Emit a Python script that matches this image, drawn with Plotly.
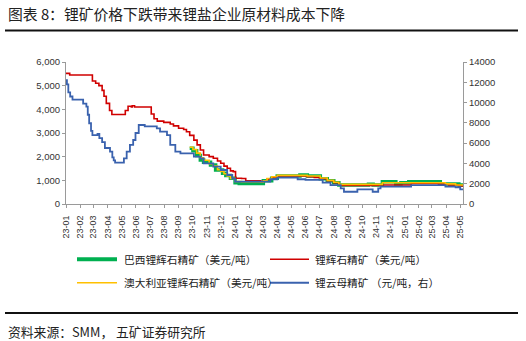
import plotly.graph_objects as go

# ---------------- data ----------------
red_dates = ["2023-01-01", "2023-01-09", "2023-02-24", "2023-02-27", "2023-03-06", "2023-03-13", "2023-03-20",
             "2023-03-24", "2023-03-29", "2023-04-05", "2023-04-10", "2023-05-05", "2023-05-09", "2023-05-15",
             "2023-05-22", "2023-05-24", "2023-05-29", "2023-06-29", "2023-07-04", "2023-07-10", "2023-07-17",
             "2023-07-31", "2023-08-14", "2023-08-21", "2023-09-01", "2023-09-12", "2023-09-18", "2023-09-25",
             "2023-10-04", "2023-10-11", "2023-10-18", "2023-10-25", "2023-11-06", "2023-11-15", "2023-11-24",
             "2023-12-01", "2023-12-08", "2023-12-15", "2023-12-22", "2023-12-28", "2024-01-02", "2024-01-15",
             "2024-01-24", "2024-02-25", "2024-03-02", "2024-03-10", "2024-03-20", "2024-04-01", "2024-04-15",
             "2024-05-20", "2024-06-05", "2024-06-20", "2024-07-03", "2024-07-18", "2024-08-01", "2024-08-12",
             "2024-08-20", "2024-11-05", "2024-12-13", "2025-01-15", "2025-03-08", "2025-03-15", "2025-04-06",
             "2025-04-28", "2025-05-07"]
red_vals = [5520, 5450, 5450, 5200, 5100, 5000, 4800,
            4550, 4250, 3950, 3780, 3780, 3950, 4130,
            4100, 4150, 4100, 4100, 3800, 3600, 3500,
            3450, 3380, 3300, 3200, 3150, 3050, 2900,
            2700, 2500, 2280, 2070, 2000, 1930, 1820,
            1720, 1600, 1510, 1400, 1370, 1090, 1080,
            980, 950, 980, 1050, 1120, 1180, 1190,
            1190, 1150, 1120, 1070, 980, 900, 800,
            780, 800, 800, 870, 870, 840, 800,
            760, 740]

yellow_dates = ["2023-09-25", "2023-10-02", "2023-10-10", "2023-10-18", "2023-10-25", "2023-11-06", "2023-11-15",
                "2023-11-24", "2023-12-01", "2023-12-08", "2023-12-15", "2023-12-22", "2024-01-01", "2024-01-15",
                "2024-02-25", "2024-03-02", "2024-03-10", "2024-03-20", "2024-04-01", "2024-05-20", "2024-06-05",
                "2024-07-03", "2024-07-18", "2024-08-01", "2024-08-12", "2024-11-05", "2024-11-14", "2025-03-19",
                "2025-03-30", "2025-04-21", "2025-05-07"]
yellow_vals = [2400, 2300, 2150, 1950, 1850, 1700, 1600,
               1450, 1380, 1280, 1180, 1080, 950, 940,
               930, 980, 1080, 1150, 1210, 1210, 1180,
               1100, 1000, 920, 830, 830, 900, 900,
               850, 800, 770]

green_dates = ["2023-09-25", "2023-10-02", "2023-10-10", "2023-10-18", "2023-10-25", "2023-11-09", "2023-11-20",
               "2023-12-05", "2023-12-12", "2023-12-22", "2024-01-01", "2024-01-10", "2024-02-25", "2024-03-02",
               "2024-03-20", "2024-04-01", "2024-05-20", "2024-06-05", "2024-07-03", "2024-07-18", "2024-08-01",
               "2024-08-12", "2024-10-10", "2024-10-15", "2024-10-25", "2024-11-14", "2024-12-13", "2024-12-24",
               "2025-01-10", "2025-03-08", "2025-03-19", "2025-04-28", "2025-05-07"]
green_vals = [2360, 2250, 2050, 1860, 1760, 1650, 1440,
              1300, 1200, 1090, 900, 870, 870, 980,
              1090, 1180, 1230, 1180, 1070, 980, 900,
              800, 800, 830, 800, 940, 840, 900,
              940, 940, 840, 800, 760]

blue_dates = ["2023-01-01", "2023-01-03", "2023-01-06", "2023-01-10", "2023-01-15", "2023-02-03", "2023-02-07",
              "2023-02-14", "2023-02-17", "2023-02-20", "2023-02-24", "2023-02-27", "2023-03-08", "2023-03-10",
              "2023-03-14", "2023-03-20", "2023-03-26", "2023-04-06", "2023-04-11", "2023-04-14", "2023-04-17",
              "2023-05-01", "2023-05-06", "2023-05-12", "2023-05-19", "2023-05-26", "2023-05-31", "2023-06-07",
              "2023-06-14", "2023-06-20", "2023-07-16", "2023-07-23", "2023-08-07", "2023-08-14", "2023-08-25",
              "2023-09-05", "2023-10-04", "2023-10-18", "2023-10-25", "2023-11-15", "2023-12-01", "2023-12-15",
              "2023-12-26", "2024-01-01", "2024-02-28", "2024-03-17", "2024-04-01", "2024-05-10", "2024-05-15",
              "2024-06-01", "2024-07-08", "2024-07-25", "2024-08-16", "2024-08-23", "2024-09-10", "2024-09-21",
              "2024-10-20", "2024-10-24", "2024-11-02", "2024-11-05", "2024-11-10", "2025-01-10", "2025-01-15",
              "2025-03-26", "2025-03-30", "2025-04-21", "2025-05-01", "2025-05-07"]
blue_vals = [12200, 11800, 11000, 10600, 10300, 10300, 9900,
             9600, 8800, 7960, 7200, 6800, 6800, 6900,
             6500, 6100, 5520, 5160, 4600, 4300, 4080,
             4080, 4500, 5160, 5820, 6310, 7000, 7790,
             7790, 7650, 7460, 7130, 6800, 5820, 5160,
             5000, 4670, 4500, 4010, 3680, 3350, 2860,
             2500, 2200, 2200, 2440, 2600, 2600, 2440,
             2370, 2100, 1870, 1550, 1210, 1210, 1450,
             1450, 1210, 1210, 1550, 1710, 1710, 1870,
             1870, 1710, 1650, 1450, 1400]

series_names = ["巴西锂辉石精矿（美元/吨）", "锂辉石精矿（美元/吨）",
                "澳大利亚锂辉石精矿（美元/吨）", "锂云母精矿 （元/吨，右）"]
left_ticks = [0, 1000, 2000, 3000, 4000, 5000, 6000]
right_ticks = [0, 2000, 4000, 6000, 8000, 10000, 12000, 14000]

title_text = "图表 8：锂矿价格下跌带来锂盐企业原材料成本下降"
source_text = "资料来源：SMM， 五矿证券研究所"

# ---------------- styling ----------------
W, H = 526, 341
L, R, T, B = 66, 463, 62, 204   # plot area in pixels
GREEN, RED, YELLOW, BLUE = "#00B050", "#D00000", "#FFC000", "#3A62AE"
CJK = "Noto Sans CJK SC"
NUM = "Liberation Sans"


def px(x):
    return (x - L) / (R - L)


def py(y):
    return (B - y) / (B - T)


fig = go.Figure()
fig.add_trace(go.Scatter(x=green_dates, y=green_vals, mode="lines", line=dict(color=GREEN, width=3.5, shape="hv"),
                         name=series_names[0], yaxis="y"))
fig.add_trace(go.Scatter(x=red_dates, y=red_vals, mode="lines", line=dict(color=RED, width=1.6, shape="hv"),
                         name=series_names[1], yaxis="y"))
fig.add_trace(go.Scatter(x=yellow_dates, y=yellow_vals, mode="lines", line=dict(color=YELLOW, width=1.6, shape="hv"),
                         name=series_names[2], yaxis="y"))
fig.add_trace(go.Scatter(x=blue_dates, y=blue_vals, mode="lines", line=dict(color=BLUE, width=1.8, shape="hv"),
                         name=series_names[3], yaxis="y2"))

axis_col = "#9a9a9a"
fig.update_layout(
    width=W, height=H,
    margin=dict(l=L, r=W - R, t=T, b=H - B, pad=0),
    paper_bgcolor="white", plot_bgcolor="white",
    showlegend=False,
    xaxis=dict(type="date", range=["2023-01-01", "2025-05-07"], dtick="M1", tick0="2023-01-01",
               tickformat="%y-%m", tickangle=-90, showgrid=False, zeroline=False,
               showline=True, linecolor=axis_col, linewidth=1, ticks="outside", ticklen=3,
               tickcolor=axis_col, ticklabelstandoff=4, tickfont=dict(family=NUM, size=9, color="#333")),
    yaxis=dict(range=[0, 6000], tickvals=left_ticks, tickformat=",", showgrid=False, zeroline=False,
               showline=True, linecolor=axis_col, linewidth=1, ticks="outside", ticklen=3,
               tickcolor=axis_col, tickfont=dict(family=NUM, size=9.5, color="#333")),
    yaxis2=dict(range=[0, 14000], tickvals=right_ticks, tickformat="d", overlaying="y", side="right",
                showgrid=False, zeroline=False, showline=True, linecolor=axis_col, linewidth=1,
                ticks="outside", ticklen=3, tickcolor=axis_col,
                tickfont=dict(family=NUM, size=9.5, color="#333")),
)

shapes = [
    dict(type="line", xref="paper", yref="paper", x0=px(5), x1=px(518), y0=py(30.5), y1=py(30.5),
         line=dict(color="#111", width=2)),
    dict(type="line", xref="paper", yref="paper", x0=px(5), x1=px(518), y0=py(313), y1=py(313),
         line=dict(color="#111", width=2)),
]
leg = [(77, 117, 259.3, GREEN, 4, 122, series_names[0]),
       (270, 309, 259.3, RED, 1.6, 313, series_names[1]),
       (77, 117, 282.7, YELLOW, 1.6, 122, series_names[2]),
       (270, 309, 282.7, BLUE, 2, 313, series_names[3])]
annotations = [
    dict(text=title_text, xref="paper", yref="paper", x=px(6), y=py(13), xanchor="left", yanchor="middle",
         showarrow=False, font=dict(family=CJK, size=14.8, color="#222")),
    dict(text=source_text, xref="paper", yref="paper", x=px(6), y=py(331), xanchor="left", yanchor="middle",
         showarrow=False, font=dict(family=CJK, size=12.8, color="#222")),
]
for x0, x1, y, col, w, tx, name in leg:
    shapes.append(dict(type="line", xref="paper", yref="paper", x0=px(x0), x1=px(x1), y0=py(y), y1=py(y),
                       line=dict(color=col, width=w)))
    annotations.append(dict(text=name, xref="paper", yref="paper", x=px(tx), y=py(y), xanchor="left",
                            yanchor="middle", showarrow=False, font=dict(family=CJK, size=10.7, color="#222")))

fig.update_layout(shapes=shapes, annotations=annotations)
fig.write_html("out.html")
